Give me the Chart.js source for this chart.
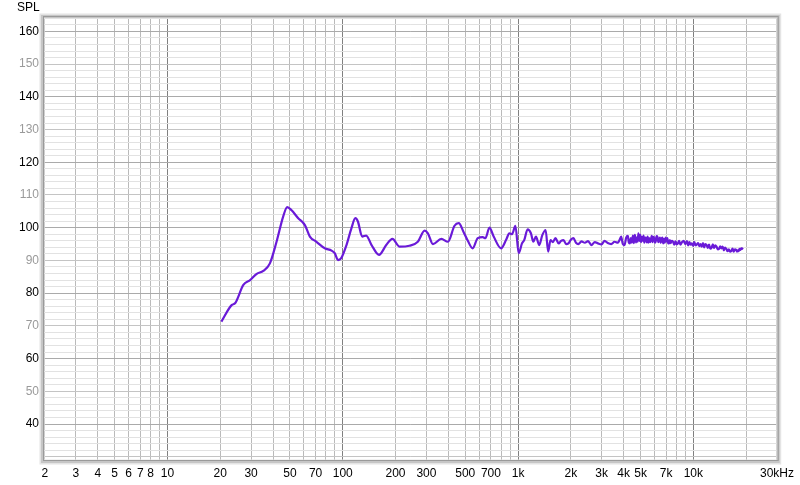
<!DOCTYPE html>
<html>
<head>
<meta charset="utf-8">
<script src="https://cdn.jsdelivr.net/npm/chart.js@4/dist/chart.umd.min.js"></script>
<style>
html,body{margin:0;padding:0;background:#fff;}
#wrap{width:800px;height:485px;position:relative;}
</style>
</head>
<body>
<div id="wrap"><canvas id="c" width="800" height="485"></canvas></div>
<script>
// Frequency (Hz)
const freqs = [20.3, 23.3, 24.3, 27.1, 29.6, 32.3, 35.2, 38.4, 41.9, 45.7, 48.2, 50.9, 55.7, 60.8, 64.9, 70.8, 79, 86.3, 90, 94, 98, 105,
  112, 118, 122, 129, 136, 146, 161, 177, 192, 211, 240, 268, 293, 306, 327, 365, 398, 434, 459, 488, 517, 551, 589, 629, 651, 687, 726,
  800, 855, 892, 924, 966, 1008, 1053, 1084, 1134, 1184, 1222, 1265, 1320, 1377, 1436, 1486, 1531, 1580, 1633, 1705, 1760, 1819, 1880, 1940,
  2000, 2070, 2140, 2208, 2300, 2405, 2510, 2620, 2740, 2858, 2990, 3118, 3250, 3400, 3550, 3710, 3790, 3875, 3960, 4050, 4140, 4230, 4280, 4340,
  4400, 4455, 4520, 4580, 4640, 4710, 4760, 4810, 4860, 4920, 4980, 5030, 5080, 5140, 5200, 5250, 5310, 5370, 5430, 5485, 5540, 5600, 5660, 5720,
  5790, 5850, 5910, 5980, 6040, 6100, 6170, 6240, 6310, 6380, 6450, 6520, 6590, 6660, 6730, 6800, 6870, 6950, 7030, 7110,
  7190, 7260, 7340, 7420, 7540, 7660, 7790, 7910, 8040, 8170, 8300, 8440, 8620, 8800, 9000, 9200, 9350, 9500, 9650, 9810, 9970, 10130, 10300, 10470,
  10640, 10810, 10990, 11170, 11350, 11540, 11720, 11910, 12100, 12300, 12500, 12710, 12920, 13130, 13340, 13560,
  13780, 14000, 14230, 14460, 14700, 14940, 15180, 15430, 15680, 15940, 16200, 16460, 16730, 17000, 17280, 17560, 17750, 17940, 18130, 18330, 18530, 18730, 18930, 19140];
// SPL (dB)
const spl = [71.3, 76.4, 76.9, 82.5, 84.0, 85.9, 86.8, 89.1, 95.7, 103.4, 106.3, 105.4, 102.9, 100.8, 97.3, 95.7, 93.7, 93.0, 92.2, 90.1, 90.7, 94.7,
  99.8, 102.9, 101.9, 97.3, 97.6, 94.7, 91.7, 94.7, 96.6, 94.2, 94.5, 95.7, 99.1, 98.3, 95.0, 96.6, 95.7, 100.6, 101.4, 98.8, 96.0, 93.7, 96.8, 97.1, 96.8, 100.0, 97.3,
  93.7, 96.3, 98.3, 98.0, 100.6, 92.2, 95.2, 96.2, 99.5, 98.3, 95.7, 97.3, 94.7, 97.8, 99.3, 92.7, 96.2, 95.6, 96.8, 95.2, 96.0, 96.2, 95.0, 95.2,
  96.3, 96.8, 95.4, 95.0, 95.8, 95.4, 95.9, 94.7, 95.6, 95.2, 94.9, 96.0, 95.3, 95.0, 95.7, 95.4, 96.2, 97.3, 95.0, 94.7, 97.0, 97.5, 95.6, 95.2,
  96.8, 95.4, 97.6, 95.3, 97.8, 95.5, 97.0, 95.7, 98.3, 96.0, 97.8, 95.6, 97.2, 96.0, 97.6, 95.4, 97.0, 96.8, 95.5, 97.3, 95.4, 96.8, 95.6, 96.2,
  97.5, 95.6, 97.2, 96.8, 95.4, 95.8, 97.4, 97.2, 95.6, 96.2, 97.0, 95.4, 96.6, 97.0, 95.2, 96.6, 95.4, 97.0, 95.8, 96.8,
  95.2, 95.2, 96.2, 95.3, 96.0, 95.7, 94.8, 95.8, 94.9, 95.2, 96.0, 94.8, 95.6, 96.0, 95.0, 95.9, 94.6, 95.6, 94.8, 95.2, 94.5, 95.6, 94.6, 94.9,
  95.3, 94.4, 95.0, 94.2, 95.3, 94.0, 95.0, 94.7, 93.8, 94.8, 93.6, 93.9, 94.9, 93.8, 94.6, 94.2,
  93.4, 93.5, 94.3, 93.7, 94.2, 93.1, 93.9, 93.5, 92.8, 93.4, 92.7, 92.9, 93.6, 92.7, 93.4, 93.2, 92.7, 93.1, 92.8, 93.5, 93.2, 93.7, 93.5, 93.9];

// Axis ticks
const xTickValues = [2,3,4,5,6,7,8,9,10,20,30,40,50,60,70,80,90,100,200,300,400,500,600,700,800,900,
  1000,2000,3000,4000,5000,6000,7000,8000,9000,10000,20000,30000];
const xTickText = ['2','3','4','5','6','7','8','','10','20','30','','50','','70','','','100','200','300','','500','','700','','',
  '1k','2k','3k','4k','5k','','7k','','','10k','','30kHz'];
const yTickValues = [30,32,34,36,38,40,42,44,46,48,50,52,54,56,58,60,62,64,66,68,70,72,74,76,78,80,82,84,86,88,90,92,94,96,98,100,
  102,104,106,108,110,112,114,116,118,120,122,124,126,128,130,132,134,136,138,140,142,144,146,148,150,152,154,156,158,160,162,164];
const yTickLabelValues = [40,50,60,70,80,90,100,110,120,130,140,150,160];
const yAxisTitle = 'SPL';

const points = freqs.map((f, i) => ({x: f, y: spl[i]}));

const framePlugin = {
  id: 'frame',
  afterDraw(chart) {
    const {ctx, chartArea: a} = chart;
    ctx.save();
    ctx.strokeStyle = '#e4e4e4';
    ctx.lineWidth = 5;
    ctx.strokeRect(a.left - 2, a.top - 1, a.right - a.left + 3, a.bottom - a.top + 3);
    ctx.strokeStyle = '#c6c6c6';
    ctx.lineWidth = 3;
    ctx.strokeRect(a.left - 1.5, a.top - 0.5, a.right - a.left + 2, a.bottom - a.top + 2);
    ctx.strokeStyle = '#9a9a9a';
    ctx.lineWidth = 1;
    ctx.strokeRect(a.left - 0.5, a.top - 0.5, a.right - a.left + 1, a.bottom - a.top + 1);
    ctx.fillStyle = '#000';
    ctx.font = '12px "Liberation Sans", Arial, sans-serif';
    ctx.textBaseline = 'middle';
    ctx.textAlign = 'left';
    ctx.fillText(yAxisTitle, 17, 8);
    ctx.restore();
  }
};

new Chart(document.getElementById('c'), {
  type: 'scatter',
  data: {
    datasets: [{
      data: points,
      showLine: true,
      borderColor: '#6a1ad8',
      backgroundColor: '#6a1ad8',
      borderWidth: 2.2,
      pointRadius: 0,
      cubicInterpolationMode: 'monotone',
      fill: false
    }]
  },
  options: {
    responsive: false,
    animation: false,
    devicePixelRatio: 1,
    layout: {padding: {top: 17, right: 21, left: 0, bottom: 0}},
    plugins: {legend: {display: false}, tooltip: {enabled: false}, title: {display: false}},
    scales: {
      x: {
        type: 'logarithmic',
        min: 1.975,
        max: 30300,
        afterBuildTicks(scale) { scale.ticks = xTickValues.map(v => ({value: v})); },
        afterFit(scale) { scale.height = 25; },
        border: {display: false},
        grid: {
          drawTicks: false,
          lineWidth: 1,
          color(ctx) {
            const v = ctx.tick ? ctx.tick.value : 0;
            const l = Math.log10(v);
            return Math.abs(l - Math.round(l)) < 1e-6 ? '#808080' : '#bababa';
          }
        },
        ticks: {
          autoSkip: false,
          maxRotation: 0,
          padding: 6,
          color: '#000',
          font: {family: '"Liberation Sans", Arial, sans-serif', size: 12},
          callback(value) {
            const i = xTickValues.indexOf(value);
            return i >= 0 ? xTickText[i] : '';
          }
        }
      },
      y: {
        type: 'linear',
        min: 29,
        max: 164.4,
        afterBuildTicks(scale) { scale.ticks = yTickValues.map(v => ({value: v})); },
        afterFit(scale) { scale.width = 44; },
        border: {display: false},
        grid: {
          drawTicks: false,
          lineWidth: 1,
          color(ctx) {
            const v = ctx.tick ? ctx.tick.value : 0;
            if (v % 20 === 0) return '#aaaaaa';
            if (v % 10 === 0) return '#c4c4c4';
            return '#e2e2e2';
          }
        },
        ticks: {
          autoSkip: false,
          padding: 5,
          font: {family: '"Liberation Sans", Arial, sans-serif', size: 12},
          color(ctx) {
            const v = ctx.tick ? ctx.tick.value : 0;
            return v % 20 === 0 ? '#000' : '#9a9a9a';
          },
          callback(value) {
            return yTickLabelValues.includes(value) ? String(value) : '';
          }
        }
      }
    }
  },
  plugins: [framePlugin]
});
</script>
</body>
</html>
